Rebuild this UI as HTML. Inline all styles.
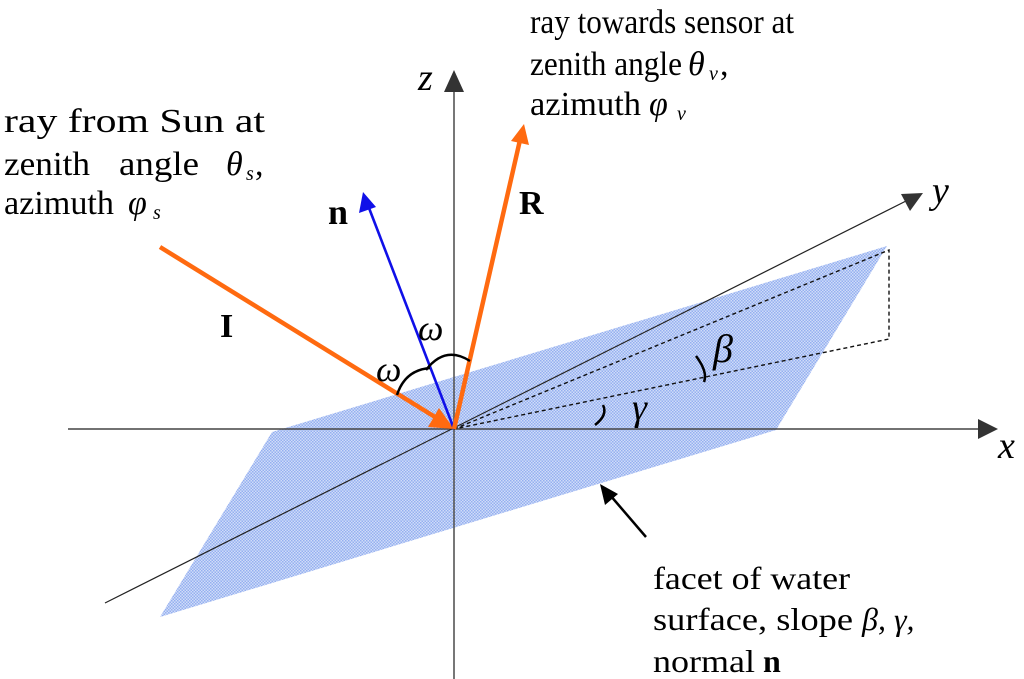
<!DOCTYPE html>
<html><head><meta charset="utf-8"><style>
html,body{margin:0;padding:0;background:#fff;}
svg{display:block;}
text{font-family:"Liberation Serif",serif;fill:#000;}
</style></head><body>
<svg width="1024" height="679" viewBox="0 0 1024 679" xmlns="http://www.w3.org/2000/svg">
<defs>
<pattern id="chk" width="3" height="3" patternUnits="userSpaceOnUse">
<rect width="3" height="3" fill="#d0dcf8"/>
<rect width="1.5" height="1.5" fill="#95aff0"/>
<rect x="1.5" y="1.5" width="1.5" height="1.5" fill="#95aff0"/>
</pattern>
</defs>
<polygon points="272,432 887,246 776,430 160,617" fill="url(#chk)"/>
<line x1="68" y1="429" x2="980" y2="429" stroke="#444" stroke-width="1.6"/>
<polygon points="998,429 978,419 978,439" fill="#333"/>
<line x1="454" y1="679" x2="454" y2="90" stroke="#555" stroke-width="1.6"/>
<polygon points="454,70 444,92 464,92" fill="#333"/>
<line x1="105" y1="603" x2="908" y2="200" stroke="#222" stroke-width="1.2"/>
<polygon points="923,193 901,194 910,211" fill="#333"/>
<polyline points="454,429 889,250 889,339 454,429" fill="none" stroke="#111" stroke-width="1.4" stroke-dasharray="4,3"/>
<line x1="160" y1="247" x2="435" y2="417" stroke="#ff6a10" stroke-width="4.5"/>
<polygon points="454,429 428,427 439,408" fill="#ff6a10"/>
<line x1="454" y1="429" x2="369" y2="208" stroke="#1010e8" stroke-width="2.6"/>
<polygon points="363,192 359,213 376,207" fill="#1010e8"/>
<line x1="454" y1="429" x2="520" y2="140" stroke="#ff6a10" stroke-width="4.5"/>
<polygon points="524,124 511,141 529,145" fill="#ff6a10"/>
<path d="M397,395 Q405,370 430,368" fill="none" stroke="#000" stroke-width="2.5"/>
<path d="M426,370 Q445,345 470,361" fill="none" stroke="#000" stroke-width="2.5"/>
<path d="M696,356 Q708,372 704,382" fill="none" stroke="#000" stroke-width="2.5"/>
<path d="M603,405 Q608,415 595,425" fill="none" stroke="#000" stroke-width="2.5"/>
<line x1="646" y1="537" x2="610" y2="495" stroke="#000" stroke-width="2.5"/>
<polygon points="600,484 605,505 618,494" fill="#000"/>
<!-- labels -->
<text x="418" y="90" font-size="38" font-style="italic">z</text>
<text x="998" y="458" font-size="38" font-style="italic">x</text>
<text x="932" y="203" font-size="38" font-style="italic">y</text>
<text x="328" y="224" font-size="36" font-weight="bold">n</text>
<text x="519" y="214" font-size="34" font-weight="bold">R</text>
<text x="220" y="337" font-size="34" font-weight="bold">I</text>
<text x="418" y="340" font-size="36" font-style="italic">ω</text>
<text x="376" y="381" font-size="36" font-style="italic">ω</text>
<text x="713" y="362" font-size="40" font-style="italic">β</text>
<text x="632" y="420" font-size="38" font-style="italic">γ</text>
<!-- left text -->
<text x="4" y="132" font-size="34" textLength="261" lengthAdjust="spacingAndGlyphs">ray  from  Sun  at</text>
<text x="4" y="175" font-size="34" textLength="86" lengthAdjust="spacingAndGlyphs">zenith</text>
<text x="119" y="175" font-size="34" textLength="80" lengthAdjust="spacingAndGlyphs">angle</text>
<text x="226" y="175" font-size="34" font-style="italic">θ</text>
<text x="246" y="180" font-size="20" font-style="italic">s</text>
<text x="255" y="175" font-size="34">,</text>
<text x="4" y="214" font-size="34" textLength="110" lengthAdjust="spacingAndGlyphs">azimuth</text>
<text x="128" y="214" font-size="34" font-style="italic">φ</text>
<text x="153" y="219" font-size="20" font-style="italic">s</text>
<!-- right text -->
<text x="530" y="33" font-size="34" textLength="264" lengthAdjust="spacingAndGlyphs">ray towards sensor at</text>
<text x="530" y="75" font-size="34" textLength="152" lengthAdjust="spacingAndGlyphs">zenith angle</text>
<text x="688" y="75" font-size="34" font-style="italic">θ</text>
<text x="709" y="80" font-size="20" font-style="italic">v</text>
<text x="720" y="75" font-size="34">,</text>
<text x="530" y="115" font-size="34" textLength="111" lengthAdjust="spacingAndGlyphs">azimuth</text>
<text x="649" y="115" font-size="34" font-style="italic">φ</text>
<text x="677" y="120" font-size="20" font-style="italic">v</text>
<!-- bottom text -->
<text x="653" y="589" font-size="32" textLength="197" lengthAdjust="spacingAndGlyphs">facet of water</text>
<text x="653" y="630" font-size="32" textLength="200" lengthAdjust="spacingAndGlyphs">surface, slope</text>
<text x="862" y="630" font-size="32" font-style="italic">β, γ,</text>
<text x="653" y="672" font-size="32" textLength="102" lengthAdjust="spacingAndGlyphs">normal</text>
<text x="763" y="672" font-size="32" font-weight="bold">n</text>
</svg>
</body></html>
